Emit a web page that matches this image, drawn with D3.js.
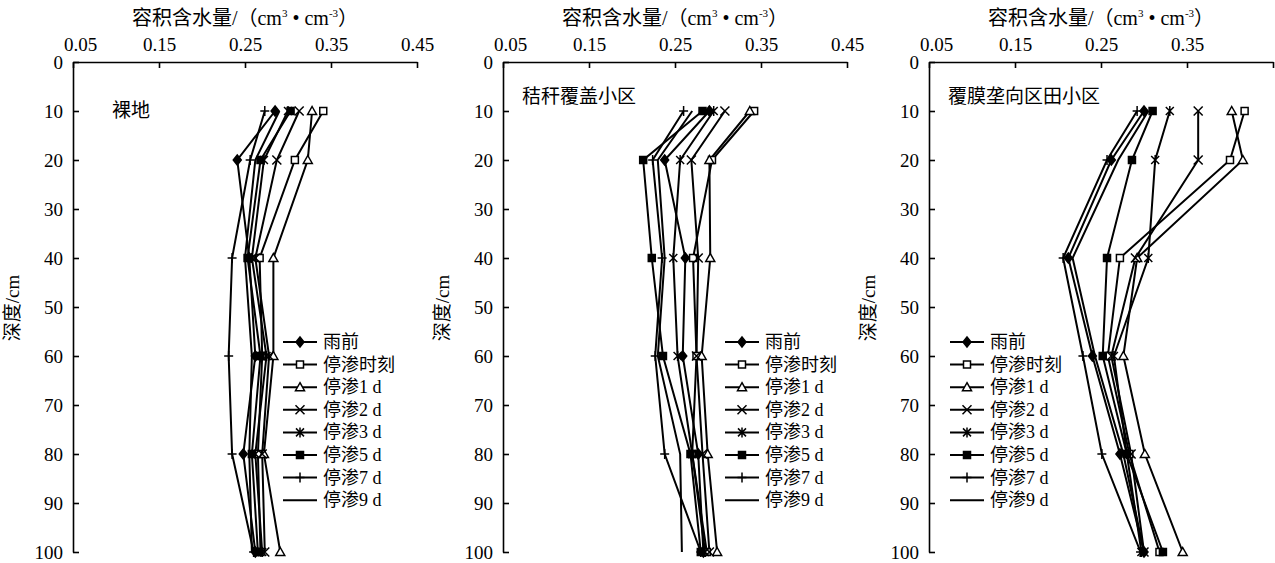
<!doctype html>
<html lang="zh">
<head>
<meta charset="utf-8">
<script src="https://d3js.org/d3.v7.min.js"></script>
<style>
  body { margin: 0; background: #fff; }
  text { font-family: "Liberation Serif", "Noto Sans CJK SC", serif; fill: #000; }
</style>
</head>
<body>
<svg id="chart" width="1275" height="563"></svg>
<script>
// depths (cm) and series
var depths = [10, 20, 40, 60, 80, 100];
var seriesNames = ["雨前", "停渗时刻", "停渗1 d", "停渗2 d", "停渗3 d", "停渗5 d", "停渗7 d", "停渗9 d"];
var markerTypes = ["diamond", "square", "triangle", "x", "asterisk", "fsquare", "plus", "none"];

// 裸地
var bareValues = [
  [0.285, 0.241, 0.255, 0.262, 0.248, 0.262],
  [0.341, 0.308, 0.267, 0.270, 0.265, 0.268],
  [0.328, 0.323, 0.283, 0.283, 0.272, 0.291],
  [0.313, 0.287, 0.262, 0.278, 0.270, 0.273],
  [0.300, 0.272, 0.258, 0.275, 0.262, 0.270],
  [0.303, 0.268, 0.253, 0.268, 0.258, 0.265],
  [0.273, 0.256, 0.235, 0.231, 0.235, 0.260],
  [0.290, 0.262, 0.250, 0.258, 0.255, 0.258]
];
// 秸秆覆盖小区
var strawValues = [
  [0.290, 0.238, 0.262, 0.259, 0.277, 0.283],
  [0.342, 0.293, 0.271, 0.275, 0.270, 0.287],
  [0.337, 0.290, 0.291, 0.281, 0.288, 0.299],
  [0.308, 0.269, 0.277, 0.275, 0.282, 0.290],
  [0.295, 0.256, 0.248, 0.253, 0.270, 0.285],
  [0.282, 0.213, 0.223, 0.236, 0.268, 0.280],
  [0.260, 0.224, 0.235, 0.227, 0.238, 0.280],
  [0.270, 0.230, 0.238, 0.230, 0.256, 0.258]
];
// 覆膜垄向区田小区
var filmValues = [
  [0.300, 0.262, 0.212, 0.240, 0.272, 0.300],
  [0.417, 0.400, 0.272, 0.258, 0.283, 0.318],
  [0.402, 0.415, 0.292, 0.276, 0.301, 0.345],
  [0.363, 0.363, 0.290, 0.262, 0.285, 0.300],
  [0.330, 0.313, 0.305, 0.265, 0.280, 0.297],
  [0.310, 0.286, 0.257, 0.252, 0.280, 0.322],
  [0.292, 0.257, 0.206, 0.229, 0.251, 0.296],
  [0.305, 0.270, 0.217, 0.243, 0.276, 0.300]
];

var xTicks = [0.05, 0.15, 0.25, 0.35, 0.45];
var yTicks = [0, 10, 20, 30, 40, 50, 60, 70, 80, 90, 100];
var panelTitles = ["裸地", "秸秆覆盖小区", "覆膜垄向区田小区"];

// layout
var panels = [
  { left: 73,  data: bareValues,  titleX: 112, titleY: 117, legX: 283, showLast: true },
  { left: 503, data: strawValues, titleX: 522, titleY: 103, legX: 725, showLast: true },
  { left: 929, data: filmValues,  titleX: 948, titleY: 103, legX: 950, showLast: false }
];
var plotW = 344, plotTop = 62, plotBottom = 552;

var svg = d3.select("#chart");

function markerPath(type) {
  if (type == "diamond") return "M0,-5L4,0L0,5L-4,0Z";
  if (type == "square" || type == "fsquare") return "M-3.5,-3.5H3.5V3.5H-3.5Z";
  if (type == "triangle") return "M0,-4.5L4.5,3.5H-4.5Z";
  if (type == "x") return "M-4.5,-4.5L4.5,4.5M-4.5,4.5L4.5,-4.5";
  if (type == "asterisk") return "M-4,-4L4,4M-4,4L4,-4M0,-5V5";
  if (type == "plus") return "M-4.5,0H4.5M0,-5V5";
  return null;
}
function markerFill(type) {
  if (type == "diamond" || type == "fsquare") return "#000";
  if (type == "square" || type == "triangle") return "#fff";
  return "none";
}

panels.forEach(function(p, pi) {
  var x = d3.scaleLinear().domain([0.05, 0.45]).range([p.left, p.left + plotW]);
  var y = d3.scaleLinear().domain([0, 100]).range([plotTop, plotBottom]);
  var g = svg.append("g");

  // axes
  var xAxis = d3.axisTop(x).tickValues(xTicks).tickSize(-6).tickSizeOuter(0)
    .tickFormat(function(d) { return (!p.showLast && d == 0.45) ? "" : d3.format(".2f")(d); });
  var xa = g.append("g").attr("transform", "translate(0," + plotTop + ")").call(xAxis);
  xa.selectAll("text").attr("y", -11).attr("font-size", 19)
    .attr("dx", function(d) { return d == 0.05 ? 7 : 0; });

  var yAxis = d3.axisLeft(y).tickValues(yTicks).tickSize(-6).tickSizeOuter(0);
  var ya = g.append("g").attr("transform", "translate(" + p.left + ",0)").call(yAxis);
  ya.selectAll("text").attr("x", -10).attr("font-size", 19);

  g.selectAll(".domain").attr("stroke", "#000").attr("stroke-width", 1.6);
  g.selectAll(".tick line").attr("stroke", "#000").attr("stroke-width", 1.6);
  g.selectAll(".tick text").attr("font-family", "Liberation Serif").attr("fill", "#000");

  // axis titles
  var xt = g.append("text").attr("x", p.left + plotW / 2).attr("y", 25)
    .attr("text-anchor", "middle").attr("font-size", 20);
  xt.append("tspan").text("容积含水量/（cm");
  xt.append("tspan").text("3").attr("font-size", 11).attr("dy", -8);
  xt.append("tspan").text(" • cm").attr("dy", 8);
  xt.append("tspan").text("-3").attr("font-size", 11).attr("dy", -8);
  xt.append("tspan").text("）").attr("dy", 8);

  g.append("text").attr("transform", "translate(" + (p.left - 54) + "," + 308 + ") rotate(-90)")
    .attr("text-anchor", "middle").attr("font-size", 19).text("深度/cm");

  g.append("text").attr("x", p.titleX).attr("y", p.titleY).attr("font-size", 19).text(panelTitles[pi]);

  // lines
  var line = d3.line()
    .x(function(d) { return x(d[0]); })
    .y(function(d) { return y(d[1]); });

  p.data.forEach(function(vals, si) {
    var pts = vals.map(function(v, i) { return [v, depths[i]]; });
    g.append("path").datum(pts).attr("d", line)
      .attr("fill", "none").attr("stroke", "#000").attr("stroke-width", 2);
  });
  p.data.forEach(function(vals, si) {
    var t = markerTypes[si];
    if (t == "none") return;
    var pts = vals.map(function(v, i) { return [v, depths[i]]; });
    g.selectAll(null).data(pts).enter().append("path")
      .attr("transform", function(d) { return "translate(" + x(d[0]) + "," + y(d[1]) + ")"; })
      .attr("d", markerPath(t))
      .attr("fill", markerFill(t)).attr("stroke", "#000").attr("stroke-width", 1.5);
  });

  // legend
  var leg = g.selectAll(".leg").data(seriesNames).enter().append("g")
    .attr("transform", function(d, i) { return "translate(" + p.legX + "," + (342 + i * 22.6) + ")"; });
  leg.append("line").attr("x1", 0).attr("x2", 34).attr("y1", 0).attr("y2", 0)
    .attr("stroke", "#000").attr("stroke-width", 2);
  leg.append("path").attr("transform", "translate(17,0)")
    .attr("d", function(d, i) { return markerPath(markerTypes[i]); })
    .attr("fill", function(d, i) { return markerFill(markerTypes[i]); })
    .attr("stroke", "#000").attr("stroke-width", 1.5);
  leg.append("text").attr("x", 40).attr("y", 6).attr("font-size", 18).text(function(d) { return d; });
});
</script>
</body>
</html>
